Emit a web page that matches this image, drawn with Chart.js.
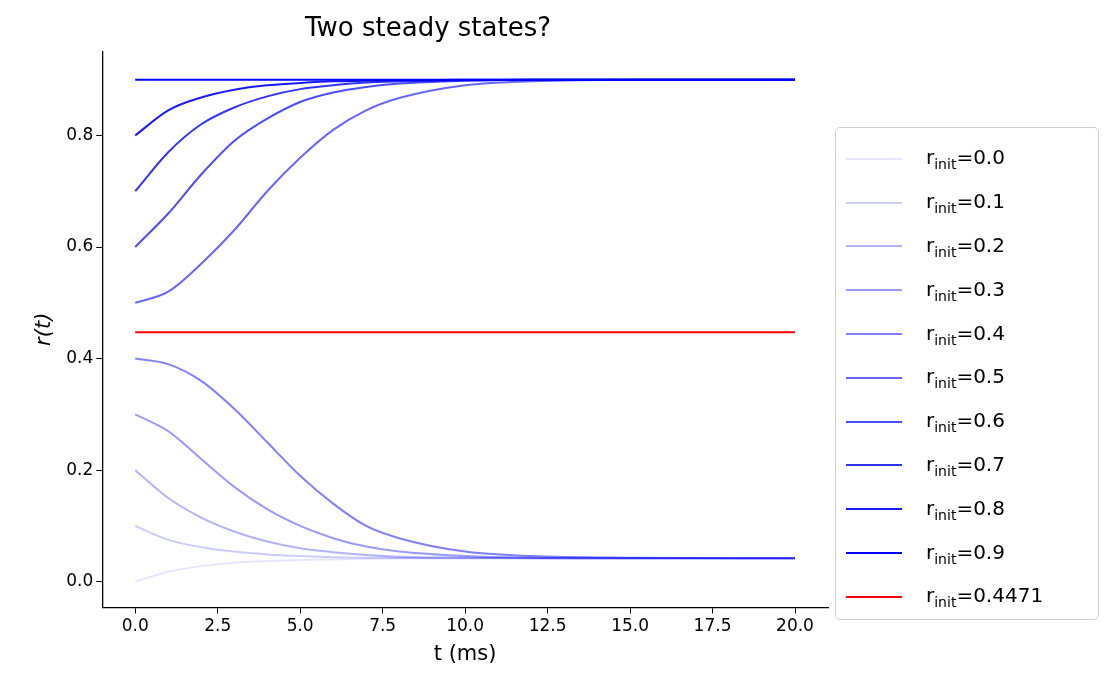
<!DOCTYPE html>
<html><head><meta charset="utf-8">
<script src="https://cdn.jsdelivr.net/npm/chart.js@4"></script>
<style>
body{margin:0;background:#fff;font-family:"DejaVu Sans",sans-serif;}
#wrap{position:absolute;left:0;top:0;width:840px;height:683px;}
#legend{position:absolute;left:835px;top:127px;width:264px;height:493px;border:1px solid #d0d0d0;border-radius:5px;box-sizing:border-box;padding:9px 0 0 10px;font-size:20px;}
.item{height:43.8px;display:flex;align-items:center;}
.sw{width:56px;height:2px;margin-right:24px;}
sub{font-size:14px;}
</style></head><body>
<div id="wrap"><canvas id="c"></canvas></div>
<div id="legend"></div>
<script>
const tPts=[0,1,2,3,4,5,6,7,8,10,12,15,20];
const initLabels=["0.0","0.1","0.2","0.3","0.4","0.5","0.6","0.7","0.8","0.9","0.4471"];
const r00=[0,0.018,0.028,0.034,0.037,0.039,0.040,0.041,0.0415,0.042,0.042,0.042,0.042];
const r01=[0.1,0.075,0.062,0.054,0.049,0.046,0.044,0.043,0.0425,0.042,0.042,0.042,0.042];
const r02=[0.2,0.15,0.115,0.09,0.072,0.06,0.053,0.048,0.045,0.043,0.042,0.042,0.042];
const r03=[0.3,0.27,0.22,0.17,0.13,0.10,0.078,0.063,0.054,0.046,0.043,0.042,0.042];
const r04=[0.4,0.39,0.36,0.31,0.25,0.19,0.14,0.10,0.078,0.054,0.046,0.043,0.042];
const r05=[0.5,0.52,0.57,0.63,0.70,0.76,0.81,0.845,0.867,0.89,0.897,0.9,0.9];
const r06=[0.6,0.66,0.73,0.79,0.83,0.86,0.877,0.887,0.893,0.898,0.9,0.9,0.9];
const r07=[0.7,0.77,0.82,0.85,0.87,0.883,0.89,0.895,0.897,0.899,0.9,0.9,0.9];
const r08=[0.8,0.845,0.868,0.882,0.89,0.894,0.897,0.898,0.899,0.9,0.9,0.9,0.9];
const r09=[0.9,0.9,0.9,0.9,0.9,0.9,0.9,0.9,0.9,0.9,0.9,0.9,0.9];
const rMid=[0.4471,0.4471,0.4471,0.4471,0.4471,0.4471,0.4471,0.4471,0.4471,0.4471,0.4471,0.4471,0.4471];
const series=[r00,r01,r02,r03,r04,r05,r06,r07,r08,r09,rMid];
const xTicks=[0,2.5,5,7.5,10,12.5,15,17.5,20];
const yTicks=[0,0.2,0.4,0.6,0.8];
const colors=series.map((s,i)=>i<10?`rgba(0,0,255,${(i+1)/10})`:'rgb(255,0,0)');
const datasets=series.map((s,i)=>({data:s.map((v,j)=>({x:tPts[j],y:v})),borderColor:colors[i],borderWidth:2,pointRadius:0,cubicInterpolationMode:'monotone'}));
const lg=document.getElementById('legend');
initLabels.forEach((l,i)=>{lg.innerHTML+=`<div class="item"><div class="sw" style="background:${colors[i]}"></div><span>r<sub>init</sub>=${l}</span></div>`;});
const tickFont={family:"DejaVu Sans",size:17};
new Chart(document.getElementById('c'),{type:'line',data:{datasets},
options:{responsive:true,maintainAspectRatio:false,animation:false,
layout:{padding:{left:28,right:12,top:0,bottom:12}},
plugins:{legend:{display:false},tooltip:{enabled:false},
title:{display:true,text:'Two steady states?',color:'#000',font:{family:"DejaVu Sans",size:26,weight:'normal'},padding:{top:14,bottom:6}}},
scales:{
x:{type:'linear',min:-1,max:21,afterBuildTicks:a=>{a.ticks=xTicks.map(v=>({value:v}));},
ticks:{color:'#000',font:tickFont,callback:v=>v.toFixed(1),maxRotation:0},
grid:{display:true,drawOnChartArea:false,drawTicks:true,tickLength:6,color:'#000'},border:{display:true,color:'#000',width:1.3},
title:{display:true,text:'t (ms)',color:'#000',font:{family:"DejaVu Sans",size:21},padding:{top:2}}},
y:{type:'linear',min:-0.046,max:0.951,afterBuildTicks:a=>{a.ticks=yTicks.map(v=>({value:v}));},
ticks:{color:'#000',font:tickFont,callback:v=>v.toFixed(1)},
grid:{display:true,drawOnChartArea:false,drawTicks:true,tickLength:6,color:'#000'},border:{display:true,color:'#000',width:1.3},
title:{display:true,text:'r(t)',color:'#000',font:{family:"DejaVu Sans",size:21,style:'italic'},padding:{bottom:6}}}
}}});
</script></body></html>
